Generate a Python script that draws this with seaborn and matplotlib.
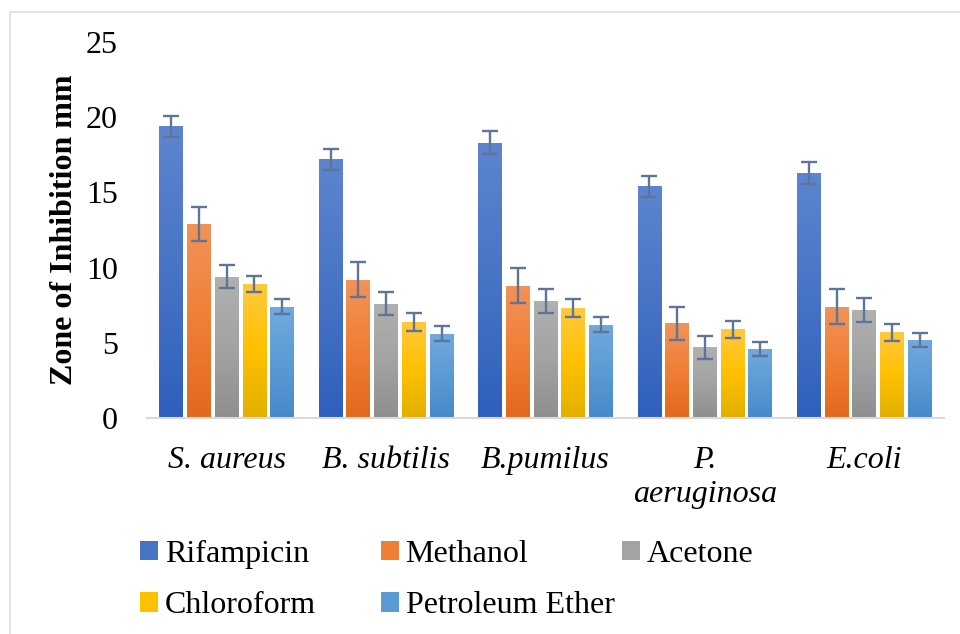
import seaborn as sns
import matplotlib.pyplot as plt
import numpy as np
import pandas as pd
from matplotlib.colors import LinearSegmentedColormap
from matplotlib.patches import Patch, Rectangle

# data
bacteria = ['S. aureus', 'B. subtilis', 'B.pumilus', 'P.\naeruginosa', 'E.coli']
solvents = ['Rifampicin', 'Methanol', 'Acetone', 'Chloroform', 'Petroleum Ether']

rifampicin = [19.4, 17.2, 18.3, 15.4, 16.3]
methanol = [12.9, 9.2, 8.8, 6.3, 7.4]
acetone = [9.4, 7.6, 7.8, 4.7, 7.2]
chloroform = [8.9, 6.4, 7.3, 5.9, 5.7]
pet_ether = [7.4, 5.6, 6.2, 4.6, 5.2]

rifampicin_err = [0.7, 0.7, 0.75, 0.7, 0.72]
methanol_err = [1.1, 1.15, 1.15, 1.1, 1.15]
acetone_err = [0.75, 0.78, 0.8, 0.75, 0.8]
chloroform_err = [0.55, 0.6, 0.58, 0.55, 0.58]
pet_ether_err = [0.5, 0.5, 0.5, 0.48, 0.48]

values = [rifampicin, methanol, acetone, chloroform, pet_ether]
errors = [rifampicin_err, methanol_err, acetone_err, chloroform_err, pet_ether_err]

# gradient colours (top, middle, bottom) like the Excel fill
grad = {
    'Rifampicin': ['#5D85CF', '#4874C6', '#2F5FBD'],
    'Methanol': ['#F29358', '#F07F36', '#E2681C'],
    'Acetone': ['#B0B0B0', '#A3A3A3', '#8E8E8E'],
    'Chloroform': ['#FFC93E', '#FFC000', '#E2B000'],
    'Petroleum Ether': ['#72A9DE', '#5B9BD5', '#4788C9'],
}

df = pd.DataFrame({
    'bacteria': np.repeat(bacteria, len(solvents)),
    'solvent': solvents * len(bacteria),
    'zone': [values[j][i] for i in range(len(bacteria)) for j in range(len(solvents))],
})

serif = ['Liberation Serif', 'DejaVu Serif']
plt.rcParams['font.family'] = serif
fs = 23

fig = plt.figure(figsize=(9.6, 6.34), dpi=100)
ax = fig.add_axes([147 / 960, 1 - 418 / 634, (944 - 147) / 960, (418 - 42) / 634])

sns.barplot(data=df, x='bacteria', y='zone', hue='solvent', order=bacteria,
            hue_order=solvents, width=0.87, gap=0.14, errorbar=None,
            palette=[grad[s][1] for s in solvents], legend=False, ax=ax)

grad_img = np.linspace(0, 1, 256).reshape(-1, 1)
bar_groups = list(ax.containers)
for k, cont in enumerate(bar_groups):
    cmap = LinearSegmentedColormap.from_list('g', grad[solvents[k]])
    xs, hs = [], []
    for bar in cont:
        x0, w, h = bar.get_x(), bar.get_width(), bar.get_height()
        bar.set_facecolor('none')
        bar.set_edgecolor('none')
        im = ax.imshow(grad_img, cmap=cmap, extent=(x0, x0 + w, 0, h),
                       aspect='auto', origin='upper', zorder=2)
        im.set_clip_path(bar)
        xs.append(x0 + w / 2)
        hs.append(h)
    ax.errorbar(xs, hs, yerr=errors[k], fmt='none', ecolor='#5E7599',
                elinewidth=1.7, capsize=6, capthick=1.7, zorder=4)

ax.set_xlim(-0.5, 4.5)
ax.set_ylim(0, 25)
ax.set_yticks([0, 5, 10, 15, 20, 25])
ax.set_xlabel('')
ax.set_ylabel('Zone of Inhibition mm', fontsize=fs, fontweight='bold', labelpad=5)
ax.tick_params(axis='y', length=0, pad=21, labelsize=fs)
ax.tick_params(axis='x', length=0, pad=20, labelsize=fs)
for lab in ax.get_xticklabels():
    lab.set_fontstyle('italic')
    lab.set_linespacing(1.25)

for s in ['top', 'right', 'left']:
    ax.spines[s].set_visible(False)
ax.spines['bottom'].set_color('#D9D9D9')
ax.spines['bottom'].set_linewidth(1.5)

# legend: Excel style fixed columns
cols = [(140, [0, 3]), (381, [1, 4]), (622, [2])]
for xpx, idx in cols:
    handles = [Patch(facecolor=grad[solvents[i]][1], edgecolor='none') for i in idx]
    fig.legend(handles, [solvents[i] for i in idx], loc='upper left',
               bbox_to_anchor=(xpx / 960, 1 - 540 / 634), frameon=False,
               fontsize=fs, handlelength=0.55, handleheight=0.55, handletextpad=0.22,
               labelspacing=0.7, borderpad=0, borderaxespad=0)

# light chart border
fig.patches.append(Rectangle((9.5 / 960, -0.1), 1.2, 1.1 - 11.5 / 634,
                             transform=fig.transFigure, fill=False,
                             edgecolor='#DDDDDD', linewidth=1.2))

fig.savefig('out.png', dpi=100)
